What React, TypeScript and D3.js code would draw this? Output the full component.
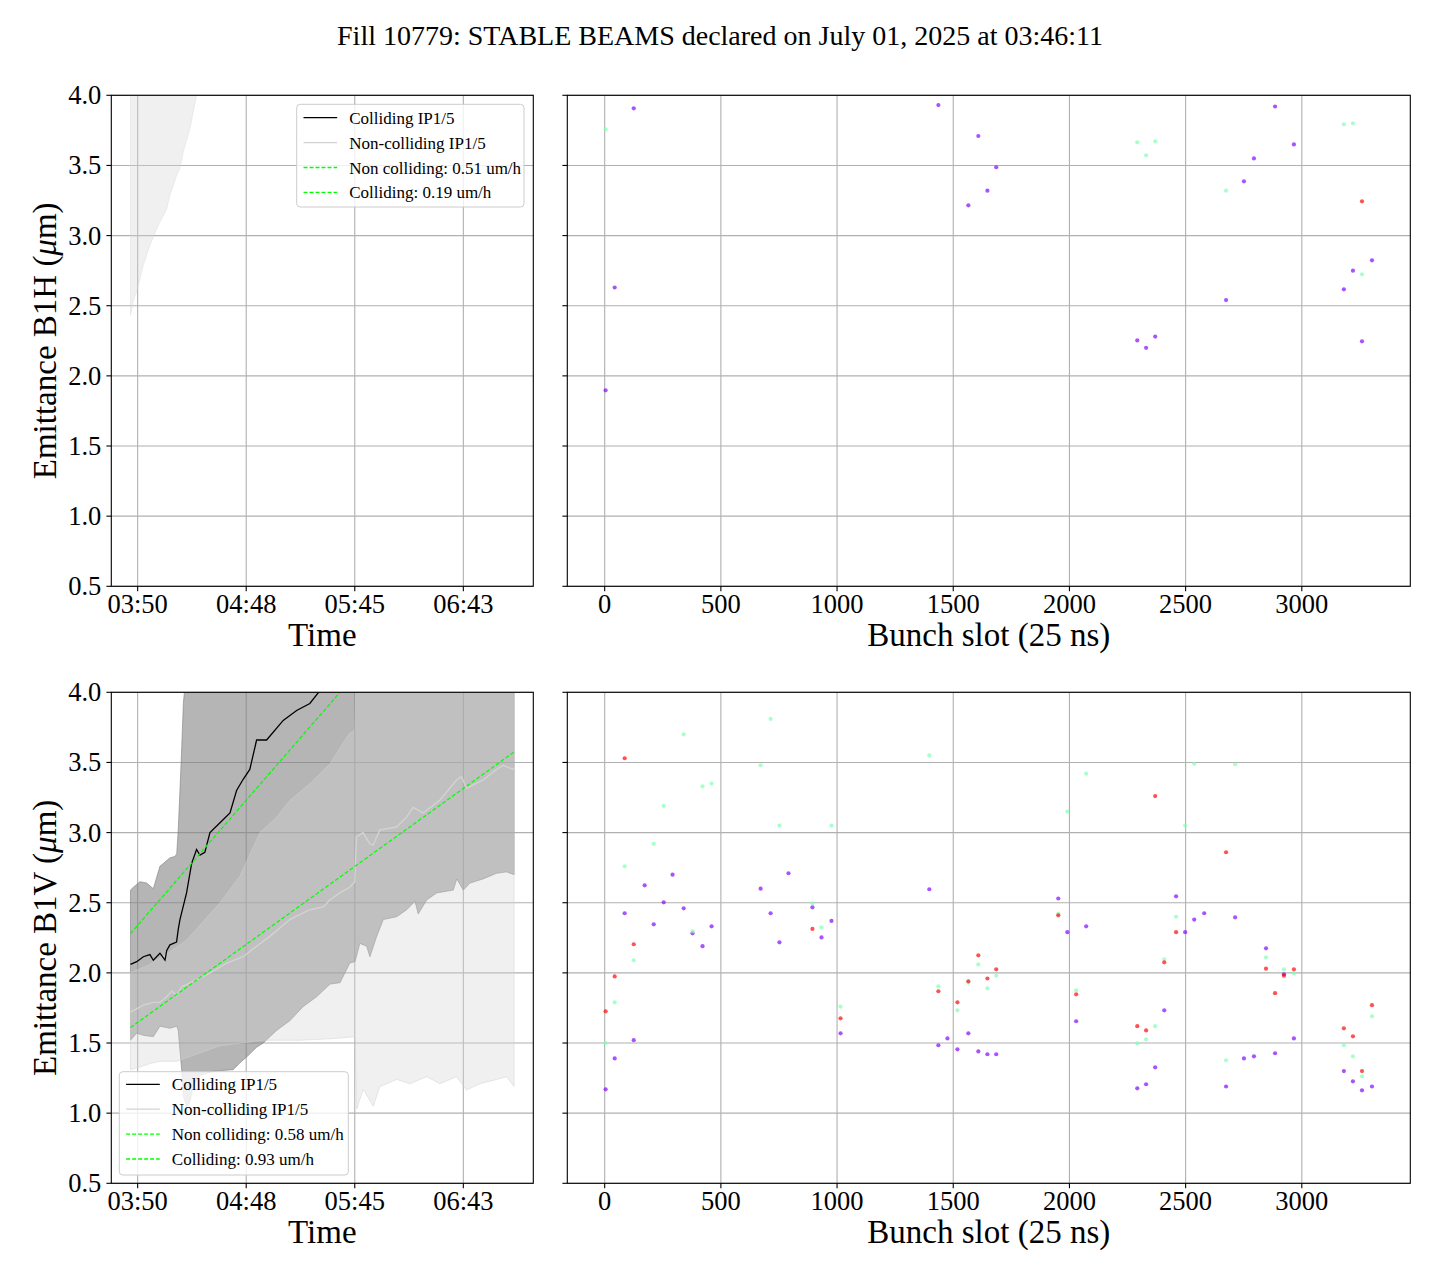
import React from 'react';
import * as d3 from 'd3';

type P = [number, number];

// ---------------- DATA ----------------
const TITLE = 'Fill 10779: STABLE BEAMS declared on July 01, 2025 at 03:46:11';
const yTicks = [0.5, 1.0, 1.5, 2.0, 2.5, 3.0, 3.5, 4.0];
const yDomain: P = [0.5, 4.0];
// time in minutes after midnight
const timeRange: P = [226.2, 429.4];
const timeTicks = [230, 287.5, 345, 402.5];
const timeTickLabels = ['03:50', '04:48', '05:45', '06:43'];
const slotTicks = [0, 500, 1000, 1500, 2000, 2500, 3000];

// ---- B1H (top) ----
const hNcUpper: P[] = [[226.2, 4.6], [429.4, 4.6]];
const hNcLower: P[] = [
  [226.2, 2.43], [227.8, 2.54], [229.5, 2.6], [233.0, 2.79], [236.5, 2.93], [240.1, 3.05],
  [245.4, 3.19], [247.1, 3.29], [250.7, 3.43], [252.4, 3.48], [254.2, 3.6], [257.7, 3.76],
  [261.2, 4.0], [280.0, 4.3], [429.4, 4.5],
];
const hPurple: P[] = [
  [125, 3.907], [4, 1.897], [43, 2.63], [1436, 3.93], [1608, 3.71], [1647, 3.32], [1565, 3.216],
  [1685, 3.487], [2885, 3.92], [2966, 3.65], [2794, 3.55], [2751, 3.387], [3302, 2.824],
  [3220, 2.75], [3181, 2.617], [2674, 2.54], [2292, 2.253], [2369, 2.28], [2330, 2.2], [3259, 2.246],
];
const hGreen: P[] = [
  [4, 3.758], [2292, 3.665], [2369, 3.672], [2330, 3.572], [2674, 3.32], [3181, 3.793],
  [3220, 3.8], [3259, 2.724],
];
const hRed: P[] = [[3259, 3.244]];

// ---- B1V (bottom) ----
const vCollUpper: P[] = [
  [226.2, 2.59], [227.7, 2.61], [231.2, 2.65], [234.8, 2.64], [238.3, 2.6], [241.8, 2.76],
  [244.5, 2.79], [247.1, 2.82], [249.8, 2.83], [250.7, 2.85], [251.5, 3.02], [252.4, 3.3],
  [253.3, 3.59], [254.2, 3.92], [255.1, 4.05], [429.4, 4.6],
];
const vCollLower: P[] = [
  [226.2, 1.52], [229.5, 1.57], [233.0, 1.555], [238.3, 1.545], [241.8, 1.62], [247.1, 1.605],
  [250.7, 1.62], [251.5, 1.59], [253.3, 1.31], [254.2, 1.12], [256.0, 1.05], [257.7, 1.08],
  [259.4, 1.2], [263.0, 1.27], [270.9, 1.3], [280.6, 1.31], [284.2, 1.36], [287.7, 1.4],
  [293.0, 1.47], [296.5, 1.5], [303.6, 1.59], [310.7, 1.66], [317.7, 1.76], [324.8, 1.83],
  [331.9, 1.92], [337.2, 1.93], [342.4, 2.07], [345.1, 2.08], [347.7, 2.21], [351.3, 2.19],
  [353.0, 2.115], [356.6, 2.26], [360.1, 2.38], [367.2, 2.4], [372.5, 2.45], [376.9, 2.51],
  [378.6, 2.42], [383.1, 2.52], [388.4, 2.57], [397.2, 2.59], [399.0, 2.67], [402.5, 2.59],
  [406.0, 2.64], [413.0, 2.67], [420.1, 2.71], [425.4, 2.72], [429.4, 2.7],
];
const vNcUpper: P[] = [
  [226.2, 2.0], [236.5, 2.06], [247.1, 2.15], [256.0, 2.235], [273.6, 2.5], [284.2, 2.69],
  [294.8, 3.0], [303.6, 3.11], [310.7, 3.23], [321.3, 3.35], [331.9, 3.49], [338.9, 3.64],
  [342.4, 3.71], [345.1, 3.73], [345.6, 4.1], [429.4, 4.6],
];
const vNcLower: P[] = [
  [226.2, 1.31], [231.5, 1.33], [236.8, 1.355], [242.1, 1.37], [250.7, 1.37], [273.6, 1.48],
  [296.5, 1.52], [316.1, 1.52], [331.9, 1.53], [345.1, 1.545], [346.0, 1.03], [349.5, 1.17],
  [354.8, 1.05], [358.3, 1.19], [367.2, 1.24], [374.2, 1.21], [383.1, 1.26], [390.1, 1.21],
  [398.9, 1.26], [404.2, 1.165], [411.3, 1.21], [420.1, 1.24], [425.4, 1.26], [429.4, 1.19],
];
const vCollMean: P[] = [
  [226.2, 2.06], [229.5, 2.08], [233.0, 2.115], [236.5, 2.13], [238.3, 2.09], [241.8, 2.14],
  [244.5, 2.09], [245.4, 2.16], [247.1, 2.2], [250.6, 2.22], [251.5, 2.31], [252.4, 2.38],
  [255.9, 2.57], [258.6, 2.78], [261.2, 2.88], [263.0, 2.84], [265.6, 2.86], [268.3, 3.0],
  [273.6, 3.07], [278.9, 3.14], [282.4, 3.3], [285.9, 3.38], [289.4, 3.45], [293.0, 3.66],
  [298.3, 3.66], [307.1, 3.8], [314.2, 3.87], [321.2, 3.92], [327.6, 4.03],
];
const vNcMean: P[] = [
  [226.2, 1.72], [233.0, 1.77], [238.3, 1.79], [241.8, 1.79], [245.4, 1.83], [248.0, 1.87],
  [250.6, 1.84], [253.3, 1.9], [261.2, 1.95], [268.3, 2.0], [277.1, 2.07], [285.9, 2.115],
  [293.0, 2.19], [300.0, 2.26], [310.6, 2.38], [321.2, 2.45], [328.3, 2.47], [331.8, 2.52],
  [337.1, 2.57], [342.4, 2.61], [345.0, 2.65], [345.9, 2.97], [349.4, 3.0], [352.9, 2.92],
  [354.7, 2.91], [358.3, 3.02], [367.1, 3.04], [372.4, 3.11], [375.9, 3.18], [381.2, 3.14],
  [390.0, 3.23], [398.9, 3.375], [401.5, 3.4], [404.2, 3.315], [413.0, 3.375], [420.1, 3.45],
  [423.6, 3.48], [428.8, 3.45], [429.4, 3.46],
];
const vFitNc: P[] = [[226.2, 1.61], [429.4, 3.575]];
const vFitColl: P[] = [[226.2, 2.28], [429.4, 5.43]];
const vPurple: P[] = [
  [292, 2.7], [791, 2.71], [172, 2.624], [671, 2.6], [1397, 2.596], [254, 2.503], [340, 2.46],
  [894, 2.467], [86, 2.425], [714, 2.425], [976, 2.37], [211, 2.346], [460, 2.332], [378, 2.282],
  [933, 2.253], [421, 2.19], [752, 2.218], [125, 1.52], [43, 1.39], [4, 1.17], [1015, 1.569],
  [1436, 1.484], [1475, 1.533], [1518, 1.455], [1565, 1.569], [1608, 1.44], [1647, 1.42],
  [1685, 1.42], [1952, 2.53], [2459, 2.546], [2580, 2.425], [2537, 2.38], [2713, 2.396],
  [2072, 2.332], [1991, 2.29], [2498, 2.29], [2029, 1.655], [2408, 1.733], [2369, 1.327],
  [2330, 1.206], [2292, 1.177], [2846, 2.175], [2923, 1.99], [2966, 1.533], [2751, 1.39],
  [2794, 1.405], [2885, 1.427], [2674, 1.19], [3181, 1.3], [3220, 1.227], [3259, 1.163], [3302, 1.19],
];
const vGreen: P[] = [
  [340, 3.7], [714, 3.81], [671, 3.48], [1397, 3.55], [421, 3.33], [460, 3.35], [254, 3.19],
  [752, 3.05], [976, 3.05], [211, 2.92], [86, 2.76], [894, 2.496], [933, 2.325], [378, 2.296],
  [125, 2.09], [43, 1.79], [4, 1.5], [1015, 1.76], [1436, 1.904], [1518, 1.733], [1565, 1.93],
  [1608, 2.06], [1647, 1.89], [1685, 1.98], [2072, 3.42], [2537, 3.49], [2713, 3.487],
  [1991, 3.15], [2498, 3.05], [2459, 2.4], [1952, 2.42], [2029, 1.876], [2408, 2.097],
  [2369, 1.62], [2330, 1.526], [2292, 1.498], [2846, 2.11], [2923, 2.025], [2966, 1.996],
  [2674, 1.377], [3302, 1.69], [3181, 1.484], [3220, 1.405], [3259, 1.263],
];
const vRed: P[] = [
  [86, 3.53], [894, 2.313], [125, 2.204], [43, 1.975], [4, 1.726], [1015, 1.676], [1436, 1.869],
  [1518, 1.79], [1565, 1.94], [1608, 2.125], [1647, 1.96], [2369, 3.26], [2674, 2.86],
  [1952, 2.41], [2459, 2.29], [1685, 2.025], [2029, 1.847], [2408, 2.075], [2292, 1.62],
  [2330, 1.59], [2846, 2.03], [2923, 1.98], [2966, 2.025], [2885, 1.855], [3302, 1.77],
  [3181, 1.605], [3220, 1.548], [3259, 1.3],
];

const legendTop = ['Colliding IP1/5', 'Non-colliding IP1/5', 'Non colliding: 0.51 um/h', 'Colliding: 0.19 um/h'];
const legendBottom = ['Colliding IP1/5', 'Non-colliding IP1/5', 'Non colliding: 0.58 um/h', 'Colliding: 0.93 um/h'];

// ---------------- LAYOUT / STYLE ----------------
const FONT = '"Liberation Serif", "Times New Roman", Times, serif';
const LX: P = [111.3, 533.3];
const RX: P = [567.3, 1410.3];
const TY: P = [95.3, 586.3];
const BY: P = [692.3, 1183.3];
const GRID = '#b0b0b0';
const TICK_FS = 26.5;
const LABEL_FS = 33;
const LEG_FS = 17;
const PURPLE = '#8000ff';
const GREEN = '#80ffb4';
const RED = '#ff0000';
const LIME = '#00ff00';

const pad = ([a, b]: P): P => [a - 0.05 * (b - a), b + 0.05 * (b - a)];

const allSlots = [...hPurple, ...hGreen, ...hRed, ...vPurple, ...vGreen, ...vRed].map((d) => d[0]);
const slotExtent = d3.extent(allSlots) as P;

const tScale = (xr: P) => d3.scaleLinear().domain(pad(timeRange)).range(xr);
const sScale = (xr: P) => d3.scaleLinear().domain(pad(slotExtent)).range(xr);
const yScale = (yr: P) => d3.scaleLinear().domain(yDomain).range([yr[1], yr[0]]);

type Lin = d3.ScaleLinear<number, number>;

function linePath(pts: P[], xs: Lin, ys: Lin) {
  return d3.line()(pts.map(([a, b]) => [xs(a), ys(b)] as [number, number])) || '';
}
function bandPath(upper: P[], lower: P[], xs: Lin, ys: Lin) {
  const pts = [...upper, ...lower.slice().reverse()];
  return linePath(pts, xs, ys) + 'Z';
}

function Frame({ xr, yr, xs, ys, xticks, xlabels, showYLabels, ylabel, xlabel, id, children }: any) {
  return (
    <g>
      <defs>
        <clipPath id={id}>
          <rect x={xr[0]} y={yr[0]} width={xr[1] - xr[0]} height={yr[1] - yr[0]} />
        </clipPath>
      </defs>
      {xticks.map((t: number, i: number) => (
        <line key={'gx' + i} x1={xs(t)} x2={xs(t)} y1={yr[0]} y2={yr[1]} stroke={GRID} strokeWidth={1.1} />
      ))}
      {yTicks.map((t, i) => (
        <line key={'gy' + i} x1={xr[0]} x2={xr[1]} y1={ys(t)} y2={ys(t)} stroke={GRID} strokeWidth={1.1} />
      ))}
      <g clipPath={`url(#${id})`}>{children}</g>
      <rect x={xr[0]} y={yr[0]} width={xr[1] - xr[0]} height={yr[1] - yr[0]} fill="none" stroke="#000" strokeWidth={1.1} />
      {xticks.map((t: number, i: number) => (
        <g key={'tx' + i}>
          <line x1={xs(t)} x2={xs(t)} y1={yr[1]} y2={yr[1] + 4.9} stroke="#000" strokeWidth={1.1} />
          <text x={xs(t)} y={yr[1] + 26.5} textAnchor="middle" fontSize={TICK_FS} fontFamily={FONT}>
            {xlabels[i]}
          </text>
        </g>
      ))}
      {yTicks.map((t, i) => (
        <g key={'ty' + i}>
          <line x1={xr[0] - 4.9} x2={xr[0]} y1={ys(t)} y2={ys(t)} stroke="#000" strokeWidth={1.1} />
          {showYLabels && (
            <text x={xr[0] - 10} y={ys(t) + 9} textAnchor="end" fontSize={TICK_FS} fontFamily={FONT}>
              {t.toFixed(1)}
            </text>
          )}
        </g>
      ))}
      <text x={(xr[0] + xr[1]) / 2} y={yr[1] + 60} textAnchor="middle" fontSize={LABEL_FS} fontFamily={FONT}>
        {xlabel}
      </text>
      {ylabel && (
        <text
          transform={`translate(56,${(yr[0] + yr[1]) / 2}) rotate(-90)`}
          textAnchor="middle"
          fontSize={LABEL_FS}
          fontFamily={FONT}
        >
          {'Emittance ' + ylabel + ' ('}
          <tspan fontStyle="italic">μ</tspan>
          {'m)'}
        </text>
      )}
    </g>
  );
}

function Legend({ x, y, w, h, labels, rowOff }: { x: number; y: number; w: number; h: number; labels: string[]; rowOff: number }) {
  const styles = [
    { stroke: '#000', dash: undefined, width: 1.3 },
    { stroke: '#d3d3d3', dash: undefined, width: 1.3 },
    { stroke: LIME, dash: '4,2', width: 1.3 },
    { stroke: LIME, dash: '4,2', width: 1.3 },
  ];
  return (
    <g>
      <rect x={x} y={y} width={w} height={h} rx={3.5} fill="#fff" fillOpacity={0.8} stroke="#cccccc" strokeWidth={1} />
      {labels.map((lab, i) => {
        const ry = y + rowOff + i * 24.9;
        const s = styles[i];
        return (
          <g key={i}>
            <line x1={x + 6.8} x2={x + 40.5} y1={ry} y2={ry} stroke={s.stroke} strokeWidth={s.width} strokeDasharray={s.dash} />
            <text x={x + 52.5} y={ry + 6} fontSize={LEG_FS} fontFamily={FONT}>
              {lab}
            </text>
          </g>
        );
      })}
    </g>
  );
}

function Dots({ pts, color, xs, ys }: { pts: P[]; color: string; xs: Lin; ys: Lin }) {
  return (
    <g>
      {pts.map(([a, b], i) => (
        <circle key={i} cx={xs(a)} cy={ys(b)} r={2.1} fill={color} fillOpacity={0.68} />
      ))}
    </g>
  );
}

export default function App() {
  const xtL = tScale(LX);
  const xsR = sScale(RX);
  const yT = yScale(TY);
  const yB = yScale(BY);

  const NC_FILL = '#d3d3d3';
  const NC_OP = 0.35;

  return (
    <svg
      width={1440}
      height={1280}
      style={{ position: 'absolute', left: 0, top: 0, background: '#fff' }}
      xmlns="http://www.w3.org/2000/svg"
    >
      <rect x={0} y={0} width={1440} height={1280} fill="#fff" />
      <text x={720} y={45} textAnchor="middle" fontSize={28} fontFamily={FONT}>
        {TITLE}
      </text>

      <Frame xr={LX} yr={TY} xs={xtL} ys={yT} xticks={timeTicks} xlabels={timeTickLabels} showYLabels ylabel="B1H" xlabel="Time" id="clipTL">
        <path d={bandPath(hNcUpper, hNcLower, xtL, yT)} fill={NC_FILL} fillOpacity={NC_OP} stroke={NC_FILL} strokeOpacity={NC_OP} strokeWidth={1} />
      </Frame>
      <Legend x={296.7} y={104.3} w={227.3} h={102.7} labels={legendTop} rowOff={13.4} />

      <Frame xr={RX} yr={TY} xs={xsR} ys={yT} xticks={slotTicks} xlabels={slotTicks.map(String)} showYLabels={false} xlabel="Bunch slot (25 ns)" id="clipTR">
        <Dots pts={hPurple} color={PURPLE} xs={xsR} ys={yT} />
        <Dots pts={hGreen} color={GREEN} xs={xsR} ys={yT} />
        <Dots pts={hRed} color={RED} xs={xsR} ys={yT} />
      </Frame>

      <Frame xr={LX} yr={BY} xs={xtL} ys={yB} xticks={timeTicks} xlabels={timeTickLabels} showYLabels ylabel="B1V" xlabel="Time" id="clipBL">
        <path d={bandPath(vCollUpper, vCollLower, xtL, yB)} fill="#808080" fillOpacity={0.58} stroke="#808080" strokeOpacity={0.6} strokeWidth={1} />
        <path d={bandPath(vNcUpper, vNcLower, xtL, yB)} fill={NC_FILL} fillOpacity={NC_OP} stroke={NC_FILL} strokeOpacity={0.5} strokeWidth={1} />
        <path d={linePath(vCollMean, xtL, yB)} fill="none" stroke="#000" strokeWidth={1.3} />
        <path d={linePath(vNcMean, xtL, yB)} fill="none" stroke="#d3d3d3" strokeWidth={1.4} />
        <path d={linePath(vFitNc, xtL, yB)} fill="none" stroke={LIME} strokeWidth={1.2} strokeDasharray="4,2" />
        <path d={linePath(vFitColl, xtL, yB)} fill="none" stroke={LIME} strokeWidth={1.2} strokeDasharray="4,2" />
      </Frame>
      <Legend x={119.3} y={1071.7} w={229} h={103.3} labels={legendBottom} rowOff={12.6} />

      <Frame xr={RX} yr={BY} xs={xsR} ys={yB} xticks={slotTicks} xlabels={slotTicks.map(String)} showYLabels={false} xlabel="Bunch slot (25 ns)" id="clipBR">
        <Dots pts={vPurple} color={PURPLE} xs={xsR} ys={yB} />
        <Dots pts={vGreen} color={GREEN} xs={xsR} ys={yB} />
        <Dots pts={vRed} color={RED} xs={xsR} ys={yB} />
      </Frame>
    </svg>
  );
}
